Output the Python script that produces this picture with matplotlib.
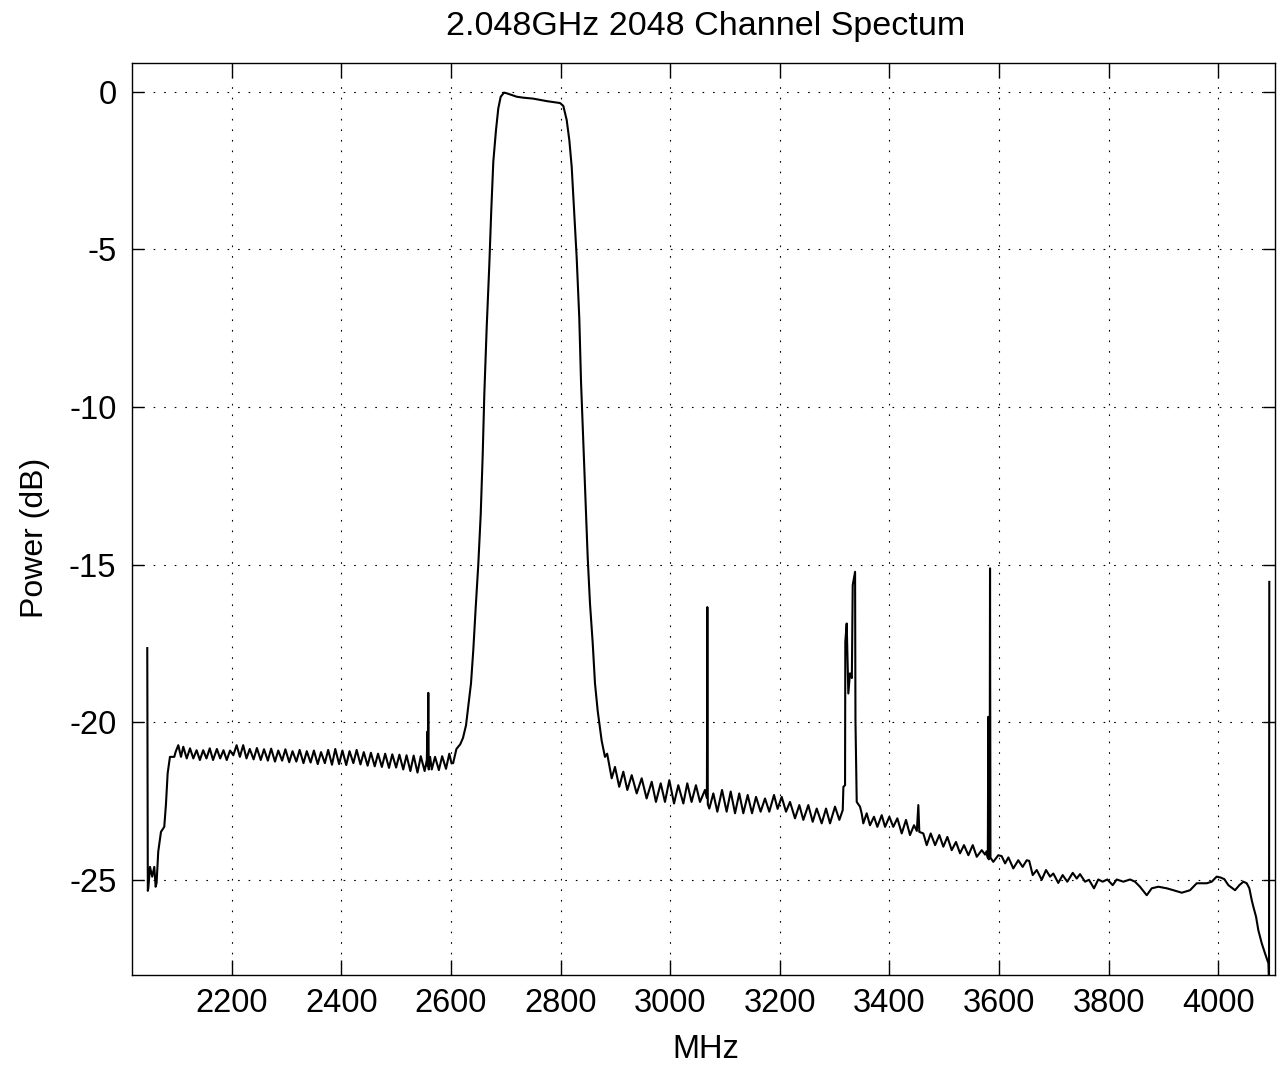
import matplotlib
matplotlib.use('Agg')
import matplotlib.pyplot as plt
import numpy as np

# spectrum, frequency in MHz, power in dB
freq_mhz = [
    2046, 2047, 2047.9, 2051, 2055, 2058.8, 2061.3, 2063, 2066, 2071, 2077, 2080, 2083.2, 2087.4, 2095.3, 2097.8,
    # lower noise floor
    2102.6, 2107.5, 2111.7, 2118, 2124, 2130, 2136, 2142, 2148, 2154, 2160, 2166, 2173, 2179, 2185, 2191,
    2197, 2203, 2209, 2215, 2221, 2227, 2233, 2240, 2246, 2253, 2259, 2266, 2272, 2279, 2285, 2292,
    2298, 2305, 2311, 2318, 2324, 2331, 2337, 2344, 2350, 2357, 2363, 2370, 2376, 2383, 2389, 2396,
    2402, 2409, 2415, 2422, 2428, 2435, 2441, 2448, 2454, 2461, 2467, 2474, 2480, 2487, 2493, 2500,
    2506, 2513, 2519, 2526, 2532, 2539, 2545, 2552, 2556, 2557, 2557.8, 2558.7, 2559.5, 2562, 2565, 2571,
    2578, 2584, 2591, 2597, 2601, 2604,
    # band
    2610, 2617, 2622, 2627.5, 2631.7, 2636.6, 2640.8, 2645.2, 2649.9, 2654.3, 2657.9, 2660.9, 2665.2,
    2670, 2673.5, 2677.3, 2682.2, 2686.4, 2690.8, 2696.8, 2701.7, 2710, 2720, 2732, 2750, 2762, 2775,
    2787, 2799, 2805, 2811.2, 2816, 2820.3, 2823.2, 2826.5, 2829.4, 2834.2, 2837.3, 2841.5, 2845.9,
    2849.5, 2853.7, 2858.6, 2862.8, 2867.8, 2875, 2881,
    # upper noise floor
    2885, 2893.3, 2899.3, 2907, 2914.5, 2921.8, 2929.8, 2938.9, 2948, 2957, 2966.3, 2974, 2982.7,
    2990.5, 2998.4, 3007, 3014.8, 3024, 3031.2, 3039, 3047, 3054.4, 3063.5, 3067, 3067.8, 3068.6,
    3071.4, 3078.7, 3086, 3094.6, 3103, 3110.4, 3118.3, 3126, 3133.4, 3141.4, 3149.3, 3156.6, 3165,
    3173, 3180.8, 3189.4, 3196, 3203.4, 3211.3, 3218.6, 3227.7, 3235.6, 3242.9, 3252, 3260, 3267.3,
    3276.4, 3284.3, 3291.6, 3300.7, 3308.6, 3314.8, 3316, 3319, 3319.5, 3322, 3325, 3328, 3331.4,
    3333, 3337.3, 3338, 3340.3, 3346.3, 3349.4, 3352.3, 3358.5, 3364.5, 3371.8, 3377.9, 3385.9, 3392,
    3399.8, 3407, 3414.4, 3422.4, 3430.2, 3437.5, 3444.8, 3450, 3452.7, 3454.5, 3461.8, 3468, 3475.3,
    3483.3, 3491, 3498.3, 3505.7, 3513.6, 3521.4, 3528.8, 3536, 3544, 3552, 3559.3, 3568.4, 3574.4,
    3577, 3579.5, 3580.3, 3581.2, 3582.8, 3583.5, 3584.3, 3589.5, 3598.6, 3604.8, 3611, 3617, 3626,
    3635, 3643, 3650.5, 3655, 3661.4, 3668.7, 3677.8, 3685.7, 3693, 3699, 3708, 3716, 3724.5, 3734.4,
    3741.7, 3747.7, 3756.8, 3764, 3773.2, 3781, 3789, 3797.5, 3807.3, 3814.6, 3826.8, 3839, 3848,
    3857, 3869.4, 3878.5, 3890.6, 3905.9, 3918, 3933.3, 3948.4, 3960.6, 3978.9, 3988, 3997, 4004.5,
    4011, 4018.3, 4030.5, 4038.4, 4045.8, 4051.8, 4056.6, 4061, 4064, 4068.8, 4073, 4079.3, 4085.3,
    4091.4, 4092.5, 4093,
]

power_db = [
    -17.65, -25.35, -25.27, -24.59, -24.9, -24.59, -25.22, -25.1, -24.11, -23.48, -23.32, -22.63, -21.62, -21.1, -21.1, -20.94,
    -20.73, -21.1, -20.78, -21.15, -20.83, -21.15, -20.89, -21.2, -20.89, -21.15, -20.83, -21.2, -20.85, -21.15, -20.89, -21.2,
    -20.9, -21.05, -20.73, -21.1, -20.73, -21.15, -20.85, -21.18, -20.82, -21.2, -20.86, -21.22, -20.84, -21.25, -20.9, -21.22,
    -20.86, -21.27, -20.92, -21.25, -20.88, -21.3, -20.92, -21.28, -20.9, -21.33, -20.95, -21.3, -20.88, -21.35, -20.85, -21.33,
    -20.9, -21.36, -20.92, -21.3, -20.88, -21.34, -20.95, -21.38, -20.97, -21.4, -21.0, -21.42, -21.0, -21.45, -21.02, -21.44,
    -21.03, -21.5, -21.05, -21.55, -21.06, -21.6, -21.08, -21.55, -21.2, -20.3, -21.4, -19.07, -21.5, -21.1, -21.5, -21.1,
    -21.52, -21.08, -21.48, -21.0, -21.3, -21.3,
    -20.85, -20.7, -20.5, -20.1, -19.48, -18.77, -17.71, -16.36, -15.0, -13.42, -11.55, -9.6, -7.49,
    -5.5, -3.8, -2.22, -1.22, -0.53, -0.16, -0.03, -0.05, -0.1, -0.16, -0.19, -0.22, -0.26, -0.3,
    -0.33, -0.36, -0.45, -0.9, -1.54, -2.38, -3.3, -4.4, -5.26, -7.2, -9.19, -11.13, -13.07,
    -14.77, -16.24, -17.48, -18.77, -19.65, -20.59, -21.1,
    -21.0, -21.78, -21.42, -22.05, -21.57, -22.15, -21.68, -22.26, -21.78, -22.42, -21.89, -22.53, -21.94,
    -22.53, -21.84, -22.58, -22.0, -22.58, -21.94, -22.53, -22.0, -22.53, -22.15, -22.4, -16.35, -22.6,
    -22.74, -22.26, -22.84, -22.15, -22.84, -22.2, -22.89, -22.26, -22.89, -22.31, -22.89, -22.37, -22.84,
    -22.42, -22.84, -22.31, -22.75, -22.37, -22.84, -22.53, -23.05, -22.63, -23.1, -22.63, -23.16, -22.74,
    -23.21, -22.74, -23.21, -22.68, -23.1, -22.79, -22.05, -22.0, -17.45, -16.87, -19.09, -18.45, -18.6,
    -15.65, -15.23, -19.93, -22.53, -22.68, -22.9, -23.21, -22.89, -23.27, -23.0, -23.32, -22.95, -23.32,
    -23.0, -23.32, -23.05, -23.53, -23.1, -23.58, -23.27, -23.45, -22.63, -23.48, -23.53, -23.9, -23.53,
    -23.9, -23.58, -23.95, -23.64, -24.06, -23.8, -24.16, -23.9, -24.22, -23.9, -24.27, -24.06, -24.2,
    -24.1, -24.3, -19.83, -24.35, -24.1, -15.12, -24.3, -24.43, -24.22, -24.25, -24.48, -24.29, -24.64,
    -24.38, -24.59, -24.38, -24.4, -24.85, -24.69, -25.0, -24.69, -24.9, -24.8, -25.1, -24.85, -25.06, -24.78,
    -24.96, -24.82, -25.06, -25.0, -25.27, -24.99, -25.06, -24.99, -25.17, -24.99, -25.06, -24.99, -25.06,
    -25.22, -25.49, -25.27, -25.22, -25.27, -25.33, -25.41, -25.33, -25.11, -25.11, -25.06, -24.9, -24.93,
    -24.98, -25.17, -25.33, -25.17, -25.06, -25.11, -25.27, -25.65, -25.86, -26.17, -26.6, -27.02, -27.34,
    -27.65, -28.3, -15.55,
]

x_ticks = [2200, 2400, 2600, 2800, 3000, 3200, 3400, 3600, 3800, 4000]
y_ticks = [0, -5, -10, -15, -20, -25]

W, H = 1277, 1066
plt.rcParams['font.family'] = ['Liberation Sans', 'DejaVu Sans']
plt.rcParams['axes.unicode_minus'] = False

fig = plt.figure(figsize=(W / 100, H / 100), dpi=100)
ax = fig.add_axes([131.7 / W, 1 - 975 / H, (1275 - 131.7) / W, (975 - 63) / H])

ax.plot(freq_mhz, power_db, color='k', lw=1.5)

ax.set_xlim(2017.6, 4103.4)
ax.set_ylim(-28.02, 0.91)
ax.set_xticks(x_ticks)
ax.set_yticks(y_ticks)
ax.tick_params(axis='both', direction='in', top=True, right=True, labelsize=23.5, width=1.0, colors='k')
ax.tick_params(axis='x', length=10.5, pad=9)
ax.tick_params(axis='y', length=8.5, pad=11)
for s in ax.spines.values():
    s.set_linewidth(1.0)

ax.grid(True, color='k', linestyle=(0, (1.5, 8)), linewidth=0.8)

fig.text(706 / W, 1 - 26 / H, '2.048GHz 2048 Channel Spectum', ha='center', va='center', fontsize=24.5)
fig.text(706 / W, 1 - 1050 / H, 'MHz', ha='center', va='center', fontsize=23.5)
fig.text(35 / W, 1 - 538 / H, 'Power (dB)', ha='center', va='center', rotation=90, fontsize=23)

fig.savefig('out.png', dpi=100)
